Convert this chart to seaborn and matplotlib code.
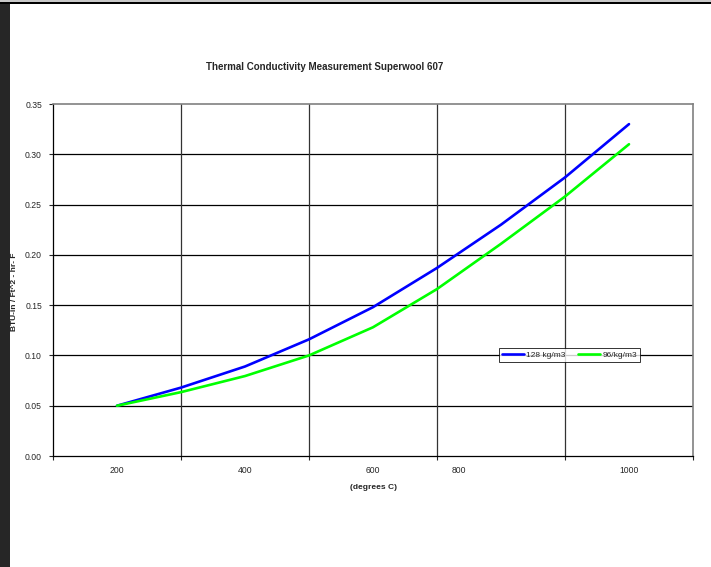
import matplotlib
matplotlib.use('Agg')
import matplotlib.pyplot as plt
import seaborn as sns
import pandas as pd
from matplotlib.patches import Rectangle

# values
TEMPS = [200, 300, 400, 500, 600, 700, 800, 900, 1000]
K_128 = [0.050, 0.068, 0.089, 0.116, 0.148, 0.187, 0.230, 0.277, 0.330]
K_96 = [0.050, 0.0635, 0.0795, 0.100, 0.128, 0.166, 0.211, 0.258, 0.310]
SERIES_NAMES = ['128 kg/m3', '96/kg/m3']
SERIES_COLORS = ['#0000ff', '#00ff00']
Y_TICKS = [0.00, 0.05, 0.10, 0.15, 0.20, 0.25, 0.30, 0.35]
X_TICK_LABELS = ['200', '400', '600', '800', '1000']
X_TICK_POS = [200, 400, 600, 734, 1000]
X_GRID = [300, 500, 700, 900]

TITLE = 'Thermal Conductivity Measurement Superwool 607'
X_LABEL = '(degrees C)'
Y_LABEL = 'BTU-in / Ft^2 - hr- F'


def build_frame() -> pd.DataFrame:
    rows = []
    for name, vals in zip(SERIES_NAMES, [K_128, K_96]):
        for t, v in zip(TEMPS, vals):
            rows.append({'temp': t, 'k': v, 'density': name})
    return pd.DataFrame(rows)


def main() -> None:
    sns.set_style('white')
    plt.rcParams['font.family'] = ['Liberation Sans', 'DejaVu Sans']

    df = build_frame()
    fig = plt.figure(figsize=(7.11, 5.67), dpi=100)
    ax = fig.add_axes([53 / 711, 1 - 456 / 567, 640 / 711, 352 / 567])

    sns.lineplot(data=df, x='temp', y='k', hue='density',
                 palette=dict(zip(SERIES_NAMES, SERIES_COLORS)),
                 linewidth=1.9, ax=ax, zorder=3)
    for line in ax.lines:
        line.set_solid_joinstyle('round')
        line.set_solid_capstyle('round')

    ax.set_xlim(100, 1100)
    ax.set_ylim(0, 0.35)

    for y in Y_TICKS[1:-1]:
        ax.axhline(y, color='black', lw=0.9, zorder=1)
    for x in X_GRID:
        ax.axvline(x, color='#333333', lw=0.9, zorder=1)

    ax.set_yticks(Y_TICKS)
    ax.set_yticklabels([f'{v:.2f}' for v in Y_TICKS], fontsize=6.2)
    ax.tick_params(axis='y', direction='out', length=3, width=0.8, pad=5, left=True)

    ax.set_xticks([100, 300, 500, 700, 900, 1100])
    ax.set_xticklabels([''] * 6)
    ax.set_xticks(X_TICK_POS, minor=True)
    ax.set_xticklabels(X_TICK_LABELS, minor=True, fontsize=6.2)
    ax.tick_params(axis='x', which='major', direction='out', length=3, width=0.8, bottom=True)
    ax.tick_params(axis='x', which='minor', length=0, pad=7)

    for side in ['top', 'right']:
        ax.spines[side].set_color('#808080')
        ax.spines[side].set_linewidth(1.2)
    for side in ['left', 'bottom']:
        ax.spines[side].set_color('black')
        ax.spines[side].set_linewidth(0.9)

    ax.set_xlabel(X_LABEL, fontsize=6, fontweight='bold', labelpad=7)
    ax.set_ylabel('')
    fig.text(15 / 711, 1 - 292 / 567, Y_LABEL, rotation=90, fontsize=6,
             fontweight='bold', ha='center', va='center')
    fig.text(325 / 711, 1 - 67 / 567, TITLE, fontsize=7, fontweight='bold',
             ha='center', va='center')

    leg = ax.legend(loc='upper left', bbox_to_anchor=(0.697, 0.307), ncol=2,
                    fontsize=6, frameon=True, fancybox=False, handlelength=2.6,
                    handletextpad=0.3, columnspacing=1.5, borderpad=0.35,
                    borderaxespad=0)
    leg.get_frame().set_edgecolor('black')
    leg.get_frame().set_linewidth(0.7)
    leg.set_zorder(5)

    # page border strips from the source document
    fig.patches.append(Rectangle((0, 1 - 2 / 567), 1, 2 / 567, transform=fig.transFigure,
                                 facecolor='#c8c8c8', edgecolor='none'))
    fig.patches.append(Rectangle((0, 1 - 4 / 567), 1, 2 / 567, transform=fig.transFigure,
                                 facecolor='black', edgecolor='none'))
    fig.patches.append(Rectangle((0, 0), 10 / 711, 1 - 4 / 567, transform=fig.transFigure,
                                 facecolor='#262626', edgecolor='none'))

    fig.savefig('out.png', dpi=100)


if __name__ == '__main__':
    main()
